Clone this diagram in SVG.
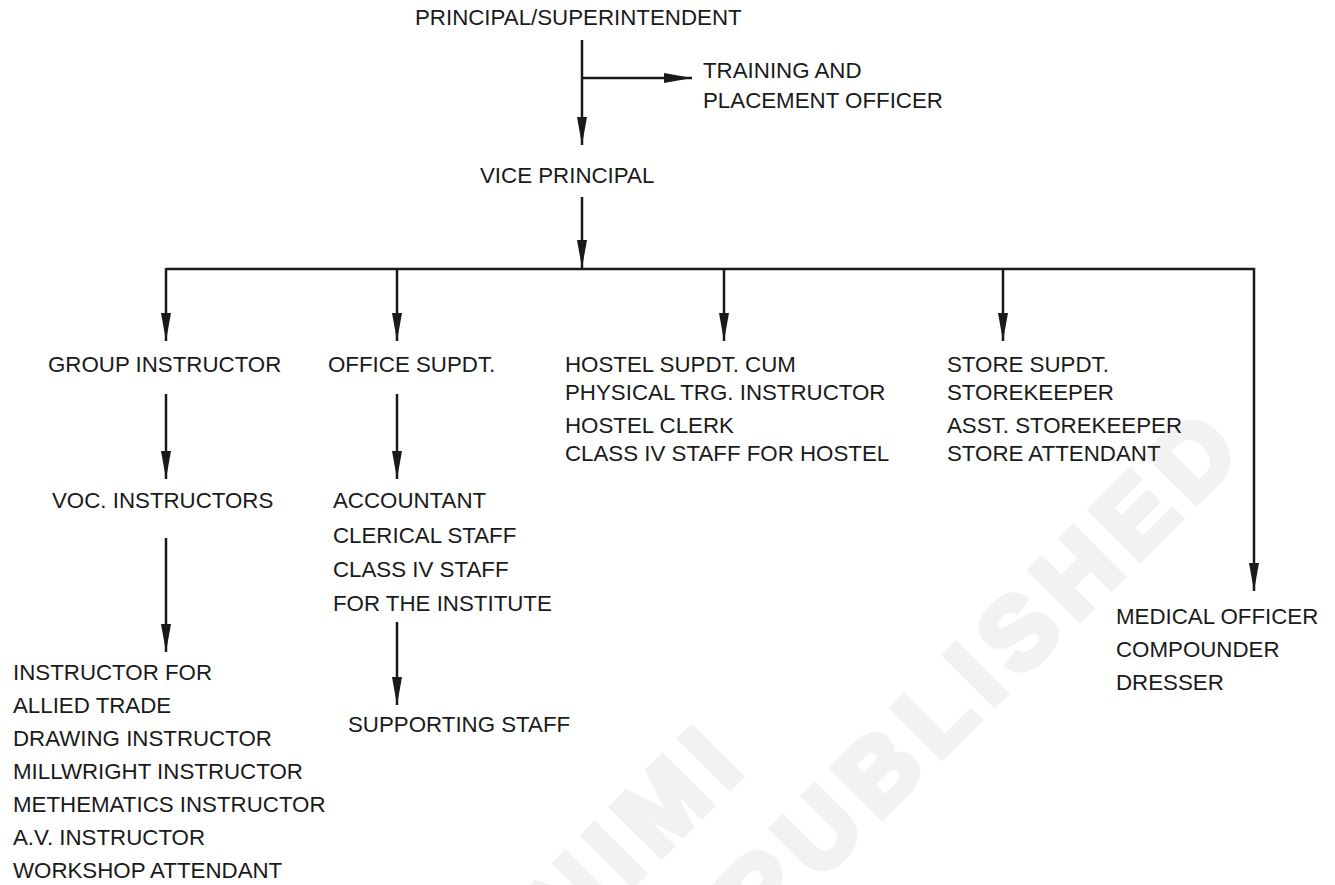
<svg xmlns="http://www.w3.org/2000/svg" width="1335" height="885" viewBox="0 0 1335 885">
  <style>
    .t { font-family: "Liberation Sans", Arial, sans-serif; font-size: 22.3px; fill: #1a1a1a; }
    .wm { font-family: "Liberation Sans", Arial, sans-serif; font-size: 100px; font-weight: bold; fill: #f2f2f2; stroke: #f2f2f2; stroke-width: 7; stroke-linejoin: miter; letter-spacing: 13px; }
    .ln { stroke: #1a1a1a; stroke-width: 2.5; fill: none; }
  </style>
  <defs>
    <marker id="arr" markerUnits="userSpaceOnUse" viewBox="0 0 28 10" refX="28" refY="5" markerWidth="28" markerHeight="10" orient="auto">
      <path d="M0,0 L28,5 L0,10 Z" fill="#1a1a1a"/>
    </marker>
  </defs>
  <rect width="1335" height="885" fill="#ffffff"/>

  <!-- background stamp -->
  <g id="stamp">
    <text class="wm" transform="translate(568,949) rotate(-45)">NIMI</text>
    <text class="wm" transform="translate(761,938) rotate(-45)">PUBLISHED</text>
  </g>

  <!-- connectors -->
  <g id="connectors">
    <line class="ln" x1="582" y1="40" x2="582" y2="145" marker-end="url(#arr)"/>
    <line class="ln" x1="582" y1="78" x2="692" y2="78" marker-end="url(#arr)"/>
    <line class="ln" x1="582" y1="197" x2="582" y2="268" marker-end="url(#arr)"/>
    <polyline class="ln" points="166,269 1254,269 1254,591" marker-end="url(#arr)"/>
    <line class="ln" x1="166" y1="268" x2="166" y2="341" marker-end="url(#arr)"/>
    <line class="ln" x1="397" y1="269" x2="397" y2="341" marker-end="url(#arr)"/>
    <line class="ln" x1="724" y1="269" x2="724" y2="341" marker-end="url(#arr)"/>
    <line class="ln" x1="1003" y1="269" x2="1003" y2="341" marker-end="url(#arr)"/>
    <line class="ln" x1="166" y1="394" x2="166" y2="479" marker-end="url(#arr)"/>
    <line class="ln" x1="166" y1="538" x2="166" y2="652" marker-end="url(#arr)"/>
    <line class="ln" x1="397" y1="394" x2="397" y2="479" marker-end="url(#arr)"/>
    <line class="ln" x1="397" y1="622" x2="397" y2="705" marker-end="url(#arr)"/>
  </g>

  <g id="principal"><text class="t" x="415" y="25">PRINCIPAL/SUPERINTENDENT</text></g>
  <g id="training-officer">
    <text class="t" x="703" y="78">TRAINING AND</text>
    <text class="t" x="703" y="108">PLACEMENT OFFICER</text>
  </g>
  <g id="vice-principal"><text class="t" x="480" y="183">VICE PRINCIPAL</text></g>

  <g id="group-instructor"><text class="t" x="48" y="372">GROUP INSTRUCTOR</text></g>
  <g id="office-supdt"><text class="t" x="328" y="372">OFFICE SUPDT.</text></g>
  <g id="hostel">
    <text class="t" x="565" y="372">HOSTEL SUPDT. CUM</text>
    <text class="t" x="565" y="400">PHYSICAL TRG. INSTRUCTOR</text>
    <text class="t" x="565" y="433">HOSTEL CLERK</text>
    <text class="t" x="565" y="461">CLASS IV STAFF FOR HOSTEL</text>
  </g>
  <g id="store">
    <text class="t" x="947" y="372">STORE SUPDT.</text>
    <text class="t" x="947" y="400">STOREKEEPER</text>
    <text class="t" x="947" y="433">ASST. STOREKEEPER</text>
    <text class="t" x="947" y="461">STORE ATTENDANT</text>
  </g>

  <g id="voc-instructors"><text class="t" x="52" y="508">VOC. INSTRUCTORS</text></g>
  <g id="office-staff">
    <text class="t" x="333" y="508">ACCOUNTANT</text>
    <text class="t" x="333" y="543">CLERICAL STAFF</text>
    <text class="t" x="333" y="577">CLASS IV STAFF</text>
    <text class="t" x="333" y="611">FOR THE INSTITUTE</text>
  </g>
  <g id="supporting-staff"><text class="t" x="348" y="732">SUPPORTING STAFF</text></g>

  <g id="trade-instructors">
    <text class="t" x="13" y="680">INSTRUCTOR FOR</text>
    <text class="t" x="13" y="713">ALLIED TRADE</text>
    <text class="t" x="13" y="746">DRAWING INSTRUCTOR</text>
    <text class="t" x="13" y="779">MILLWRIGHT INSTRUCTOR</text>
    <text class="t" x="13" y="812">METHEMATICS INSTRUCTOR</text>
    <text class="t" x="13" y="845">A.V. INSTRUCTOR</text>
    <text class="t" x="13" y="878">WORKSHOP ATTENDANT</text>
  </g>

  <g id="medical">
    <text class="t" x="1116" y="624">MEDICAL OFFICER</text>
    <text class="t" x="1116" y="657">COMPOUNDER</text>
    <text class="t" x="1116" y="690">DRESSER</text>
  </g>
</svg>
